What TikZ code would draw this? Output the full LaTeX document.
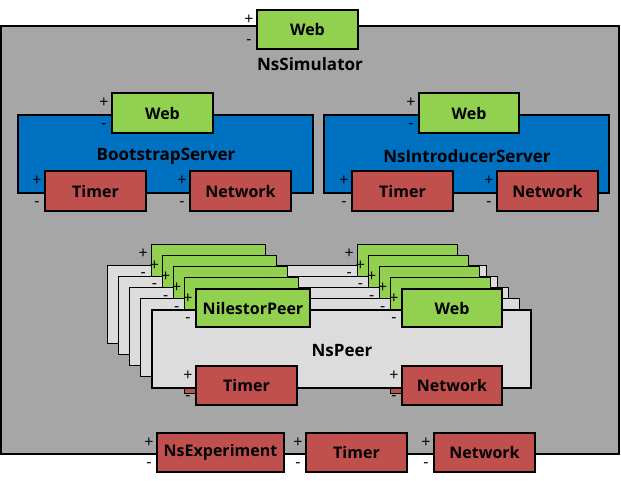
\documentclass[tikz,border=0pt]{standalone}
\usepackage{fontspec}
\setmainfont{Open Sans}
\definecolor{simgray}{HTML}{A6A6A6}
\definecolor{srvblue}{HTML}{0070C0}
\definecolor{webgreen}{HTML}{92D050}
\definecolor{tmred}{HTML}{C0504D}
\definecolor{peergray}{HTML}{DCDCDC}
\tikzset{
  pb/.style={draw, line width=1.3pt, inner sep=0pt, font=\bfseries\fontsize{16}{18}\selectfont},
  pm/.style={inner sep=0pt, font=\fontsize{16}{17}\selectfont},
  panel/.style={draw, line width=1.3pt},
  lbl/.style={inner sep=0pt, font=\bfseries\fontsize{17}{19}\selectfont}
}
\newcommand{\pbox}[7]{%
  \node[pb, fill=#6, minimum width={(#4-#2)*1pt}, minimum height={(#5-#3)*1pt}] (#1) at ({(#2+#4)/2},{(#3+#5)/2}) {#7};
  \node[pm] (#1p) at ({#2-8},{#3+10}) {+};
  \node[pm] (#1m) at ({#2-8},{#5-7}) {-};
}
\newcommand{\rbox}[6]{%
  \node[pb, fill=#6, minimum width={(#4-#2)*1pt}, minimum height={(#5-#3)*1pt}] (#1) at ({(#2+#4)/2},{(#3+#5)/2}) {};
}
\begin{document}
\begin{tikzpicture}[x=1pt,y=-1pt]
\useasboundingbox (0,0) rectangle (621,480);
% simulator
\draw[panel, fill=simgray] (1,26) rectangle (619,454);
\pbox{simweb}{257}{10}{358}{49}{webgreen}{Web}
\node[lbl] (simlbl) at (310,64) {NsSimulator};
% bootstrap server
\draw[panel, fill=srvblue] (18,115) rectangle (313,193);
\pbox{bsweb}{112}{93}{213}{133}{webgreen}{Web}
\node[lbl] (bslbl) at (166,156) {BootstrapServer};
\pbox{bstimer}{45}{171}{146}{211}{tmred}{Timer}
\pbox{bsnet}{190}{171}{291}{211}{tmred}{Network}
% introducer server
\draw[panel, fill=srvblue] (324,115) rectangle (609,193);
\pbox{inweb}{419}{93}{519}{133}{webgreen}{Web}
\node[lbl] (inlbl) at (467,156) {NsIntroducerServer};
\pbox{intimer}{352}{171}{453}{211}{tmred}{Timer}
\pbox{innet}{497}{171}{598}{211}{tmred}{Network}
% peer stack (back layers)
\foreach \k in {4,3,2,1}{
  \pgfmathsetmacro{\d}{11.2*\k}
  \begin{scope}[shift={(-\d,-\d)}]
    \draw[panel, fill=peergray] (152,310) rectangle (531,388);
    \pbox{np\k}{196}{289}{310}{327}{webgreen}{}
    \pbox{pw\k}{402}{289}{502}{327}{webgreen}{}
    \rbox{pt\k}{196}{366}{297}{405}{tmred}
    \rbox{pn\k}{402}{366}{502}{405}{tmred}
  \end{scope}
}
% front layer
\draw[panel, fill=peergray] (152,310) rectangle (531,388);
\node[lbl] (peerlbl) at (342,351) {NsPeer};
\pbox{np}{196}{289}{310}{327}{webgreen}{NilestorPeer}
\pbox{pw}{402}{289}{502}{327}{webgreen}{Web}
\pbox{pt}{196}{366}{297}{405}{tmred}{Timer}
\pbox{pn}{402}{366}{502}{405}{tmred}{Network}
% bottom row
\pbox{exp}{157}{433}{284}{472}{tmred}{NsExperiment}
\pbox{stimer}{306}{433}{407}{472}{tmred}{Timer}
\pbox{snet}{434}{433}{535}{472}{tmred}{Network}
\end{tikzpicture}
\end{document}
